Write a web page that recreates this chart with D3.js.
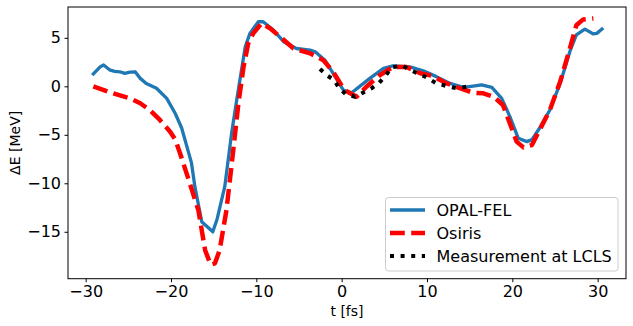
<!DOCTYPE html>
<html lang="en">
<head>
  <meta charset="utf-8">
  <title>Energy modulation</title>
  <script src="https://d3js.org/d3.v7.min.js"></script>
  <style>
    body { margin: 0; background: #fff; }
    text { font-family: "DejaVu Sans", sans-serif; fill: #000; }
  </style>
</head>
<body>
<script type="text/javascript">

// data
var opalTime = [-29.1, -28.3, -27.9, -27.2, -26.6, -26.0, -25.4, -24.8, -24.2, -23.6, -22.9, -21.7, -20.5, -19.5, -18.75,
  -17.6, -17.2, -16.4, -15.1, -14.6, -13.7, -12.9, -12.3, -11.3, -10.75, -9.77, -9.2, -8.0, -6.8, -5.3, -3.7, -3.1,
  -1.96, -1.0, 0.19, 1.17, 3.3, 4.9, 6.0, 8.0, 9.56, 11.1, 12.7, 14.25, 15.4, 16.4, 17.6, 18.75, 19.7, 20.7, 21.7,
  22.3, 23.2, 24.4, 25.6, 26.8, 27.5, 28.5, 29.5, 29.9, 30.5];
var opalDE = [1.27, 2.0, 2.2, 1.7, 1.55, 1.5, 1.34, 1.47, 1.5, 0.82, 0.3, -0.2, -1.24, -2.8, -4.3,
  -7.9, -10.35, -13.96, -15.0, -13.7, -10.35, -4.85, -1.4, 4.08, 5.46, 6.66, 6.66, 5.8, 4.6, 3.9, 3.74, 3.57,
  2.7, 1.34, -0.38, -0.66, 0.82, 1.85, 2.1, 2.0, 1.6, 1.0, 0.3, -0.1, 0.03, 0.15, -0.1, -1.24, -3.1, -5.36, -5.7,
  -5.5, -4.3, -2.44, 0.3, 3.74, 5.3, 5.9, 5.4, 5.46, 5.9];

var osirisTime = [-29.1, -26.8, -24.8, -23.6, -22.5, -21.3, -20.1, -19.5, -18.9, -17.8, -16.8, -16.0, -15.35, -14.85,
  -14.3, -13.5, -12.7, -12.1, -11.5, -10.95, -10.36, -9.4, -8.4, -7.0, -5.67, -3.7, -2.16, -1.0, 0.19, 0.58, 1.75,
  2.9, 4.5, 6.0, 7.6, 9.2, 10.7, 12.3, 13.86, 15.4, 16.6, 17.8, 18.9, 19.7, 20.5, 21.3, 22.3, 23.2, 24.4, 25.6,
  26.8, 27.5, 28.3, 29.5];
var osirisDE = [0.0, -0.72, -1.24, -1.75, -2.44, -3.47, -4.68, -5.5, -7.0, -10.0, -12.75, -16.9, -18.4, -18.25,
  -16.9, -12.75, -6.57, -1.75, 2.0, 4.43, 5.46, 6.5, 5.98, 4.95, 3.92, 3.4, 2.7, 1.5, -0.2, -0.5, -1.07,
  -0.04, 1.16, 2.0, 2.0, 1.34, 1.06, 0.3, -0.2, -0.66, -0.72, -1.07, -1.93, -3.8, -5.7, -6.3, -6.05, -4.5, -2.44, 0.47,
  4.08, 6.3, 6.9, 7.0];

var lclsTime = [-2.54, -1.76, -0.9, -0.28, 0.5, 1.56, 2.73, 3.5, 4.4, 5.2, 5.86, 7.15, 8.0, 9.2, 10.15, 11.1, 12.3, 13.5, 14.65];
var lclsDE = [1.78, 1.16, 0.65, -0.2, -0.82, -1.07, -0.55, -0.2, 0.37, 1.16, 1.96, 2.12, 1.68, 1.24, 0.82, 0.31, 0.03, -0.2, -0.04];

var xTicks = [-30, -20, -10, 0, 10, 20, 30];
var yTicks = [-15, -10, -5, 0, 5];

var seriesNames = ["OPAL-FEL", "Osiris", "Measurement at LCLS"];

var svg_width = 633;
var svg_height = 326;
var margin = {left: 68, right: 7, top: 7, bottom: 47.3};

var svg = d3.select("body")
  .append("svg")
  .attr("width", svg_width)
  .attr("height", svg_height);

var x = d3.scaleLinear()
  .domain([-32.07, 33.32])
  .range([margin.left, svg_width - margin.right]);

var y = d3.scaleLinear()
  .domain([-19.84, 8.18])
  .range([svg_height - margin.bottom, margin.top]);

function zip(a, b) {
  return a.map(function(d, i) { return [d, b[i]]; });
}

var series = [
  {name: seriesNames[0], data: zip(opalTime, opalDE), color: "#1f77b4", width: 3.3, dash: null},
  {name: seriesNames[1], data: zip(osirisTime, osirisDE), color: "#ff0000", width: 4.5, dash: "14.8,6.4"},
  {name: seriesNames[2], data: zip(lclsTime, lclsDE), color: "#000000", width: 4, dash: "4,6.6"}
];

var line = d3.line()
  .x(function(d) { return x(d[0]); })
  .y(function(d) { return y(d[1]); });

// clip to plot area
svg.append("clipPath").attr("id", "plotclip")
  .append("rect")
  .attr("x", margin.left).attr("y", margin.top)
  .attr("width", svg_width - margin.left - margin.right)
  .attr("height", svg_height - margin.top - margin.bottom);

var plot = svg.append("g").attr("clip-path", "url(#plotclip)");

series.forEach(function(s) {
  plot.append("path")
    .datum(s.data)
    .attr("d", line)
    .attr("fill", "none")
    .attr("stroke", s.color)
    .attr("stroke-width", s.width)
    .attr("stroke-dasharray", s.dash)
    .attr("stroke-linejoin", "round")
    .attr("stroke-linecap", s.dash ? "butt" : "square");
});

// axes
var xAxis = d3.axisBottom(x)
  .tickValues(xTicks)
  .tickSize(3.5)
  .tickPadding(3.5)
  .tickFormat(function(d) { return d < 0 ? "\u2212" + Math.abs(d) : d; });

var yAxis = d3.axisLeft(y)
  .tickValues(yTicks)
  .tickSize(3.5)
  .tickPadding(3.5)
  .tickFormat(function(d) { return d < 0 ? "\u2212" + Math.abs(d) : d; });

var gx = svg.append("g")
  .attr("transform", "translate(0," + (svg_height - margin.bottom) + ")")
  .call(xAxis);
var gy = svg.append("g")
  .attr("transform", "translate(" + margin.left + ",0)")
  .call(yAxis);

[gx, gy].forEach(function(g) {
  g.select(".domain").remove();
  g.selectAll(".tick line").attr("stroke", "#000").attr("stroke-width", 1);
  g.selectAll(".tick text")
    .attr("font-family", "DejaVu Sans, sans-serif")
    .attr("font-size", "16px")
    .attr("fill", "#000");
});

// frame
svg.append("rect")
  .attr("x", margin.left)
  .attr("y", margin.top)
  .attr("width", svg_width - margin.left - margin.right)
  .attr("height", svg_height - margin.top - margin.bottom)
  .attr("fill", "none")
  .attr("stroke", "#000")
  .attr("stroke-width", 1);

// axis labels
svg.append("text")
  .attr("x", (margin.left + svg_width - margin.right) / 2)
  .attr("y", 316)
  .attr("text-anchor", "middle")
  .attr("font-size", "14px")
  .text("t [fs]");

svg.append("text")
  .attr("transform", "translate(20," + ((margin.top + svg_height - margin.bottom) / 2) + ") rotate(-90)")
  .attr("text-anchor", "middle")
  .attr("font-size", "14px")
  .text("\u0394E [MeV]");

// legend
var legend = svg.append("g");
legend.append("rect")
  .attr("x", 385.5)
  .attr("y", 197.5)
  .attr("width", 232.5)
  .attr("height", 73.5)
  .attr("rx", 3)
  .attr("fill", "#fff")
  .attr("fill-opacity", 0.8)
  .attr("stroke", "#cccccc")
  .attr("stroke-width", 1);

series.forEach(function(s, i) {
  var ly = 210 + i * 23;
  legend.append("line")
    .attr("x1", 390).attr("x2", 425)
    .attr("y1", ly).attr("y2", ly)
    .attr("stroke", s.color)
    .attr("stroke-width", s.width)
    .attr("stroke-dasharray", s.dash);
  legend.append("text")
    .attr("x", 436.5)
    .attr("y", ly + 6)
    .attr("font-size", "16px")
    .text(s.name);
});

</script>
</body>
</html>
